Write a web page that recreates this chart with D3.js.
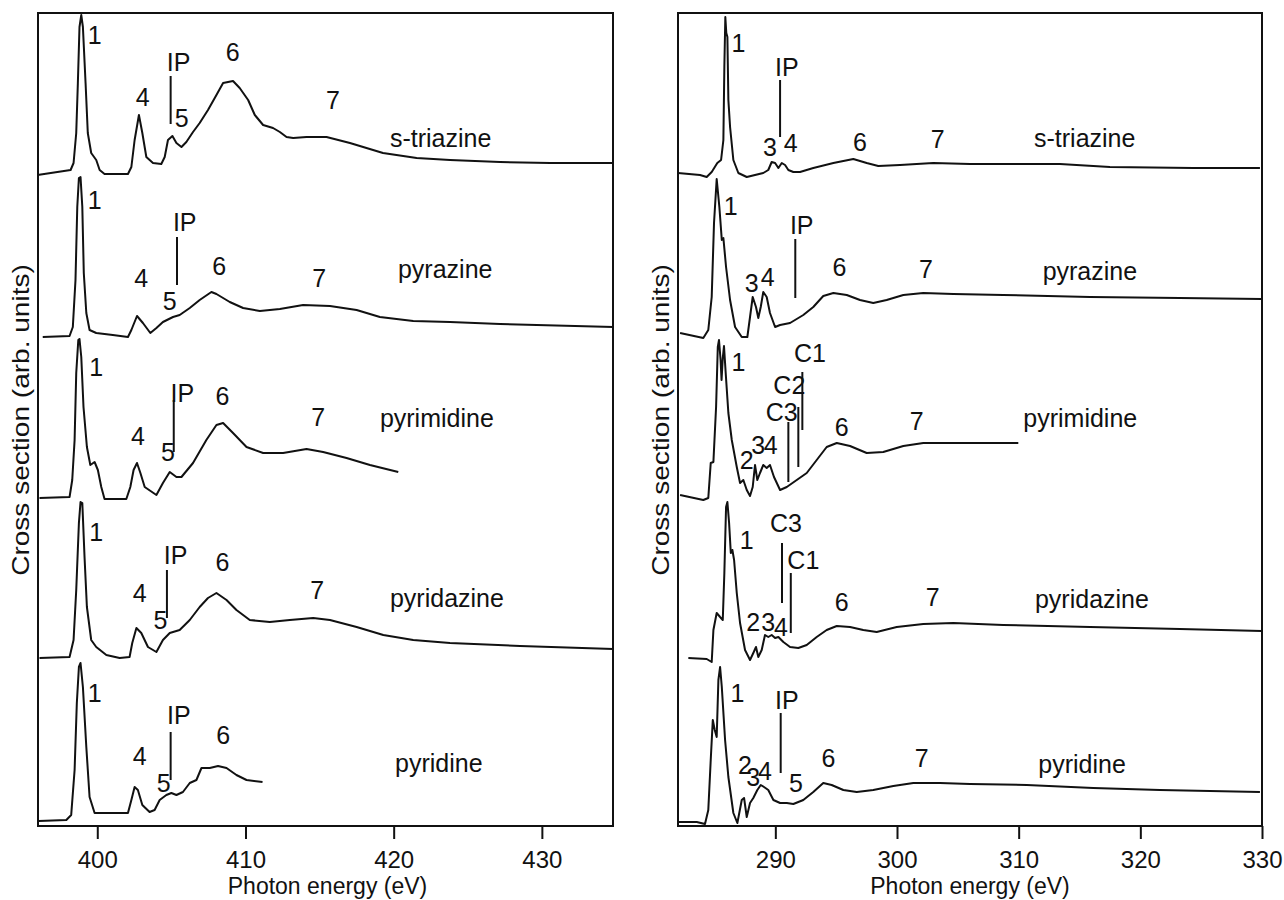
<!DOCTYPE html>
<html lang="en">
<head>
    <meta charset="UTF-8">
    <title>N 1s and C 1s spectra of azines</title>
    <script src="https://d3js.org/d3.v7.min.js"></script>
    <style>
        body { margin: 0; background: #fff; }
        svg text { font-family: "Liberation Sans", Arial, Helvetica, sans-serif; fill: #111; }
        .spec { fill: none; stroke: #111; stroke-width: 2; stroke-linejoin: round; }
        .frame { fill: none; stroke: #111; stroke-width: 2; }
        .mark { stroke: #111; stroke-width: 2; }
        .axis path { display: none; }
        .axis line { stroke: #111; stroke-width: 2; }
    </style>
</head>
<body>
<svg id="chart" width="1284" height="900"></svg>
<script>
    // molecules, top to bottom
    var molecules = ["s-triazine", "pyrazine", "pyrimidine", "pyridazine", "pyridine"];

    // tick labels (photon energy, eV)
    var nTicks = [400, 410, 420, 430];
    var cTicks = [290, 300, 310, 320, 330];

    // vertical offset of each spectrum (arb. units)
    var nOffsets = [651, 489, 328, 168, 5];
    var cOffsets = [651, 489, 328, 168, 6];

    // N 1s spectra: [energy, intensity above own baseline]
    var nTriazine = [[395.97,0],[398.2,5],[398.4,12],[398.58,42],[398.69,92],[398.8,148],[398.92,160],[399.03,148],[399.21,92],[399.36,42],[399.59,22],[399.93,15],[400.16,5],[400.49,1],[402.07,1],[402.3,8],[402.52,35],[402.81,60],[403.04,42],[403.31,18],[403.76,12],[404.32,11],[404.55,18],[404.77,35],[405.07,39],[405.34,32],[405.68,28],[406.01,33],[406.46,43],[406.91,52],[407.47,65],[408.04,80],[408.49,92],[409.16,94],[409.61,87],[410.18,75],[410.63,60],[411.19,50],[411.86,47],[412.32,43],[412.77,38],[413.22,37],[414.12,38],[415.47,38],[417.05,32],[419.28,22],[421.55,17],[423.8,15],[427.18,13],[430.56,12],[434.8,12]];
    var nPyrazine = [[396.32,0],[398.13,1],[398.35,10],[398.53,57],[398.65,130],[398.76,159],[398.87,160],[398.99,130],[399.09,64],[399.26,24],[399.48,7],[399.93,4],[401.05,2],[402.07,0],[402.3,7],[402.68,21],[403.08,14],[403.58,4],[403.99,9],[404.43,15],[405.11,20],[405.56,22],[406.24,29],[406.91,37],[407.7,45],[408.04,43],[408.94,35],[409.84,29],[410.97,26],[412.32,28],[413.89,32],[415.7,31],[417.5,27],[419.07,20],[421.32,16],[423.8,15],[427.18,13],[434.82,10]];
    var nPyrimidine = [[396.1,0],[398.13,1],[398.31,18],[398.47,58],[398.58,125],[398.72,158],[398.8,159],[398.92,141],[399.07,91],[399.3,51],[399.53,33],[399.82,36],[400.04,28],[400.27,11],[400.49,-1],[401.96,-1],[402.23,11],[402.45,28],[402.68,35],[402.91,25],[403.2,11],[403.99,3],[404.43,15],[404.89,26],[405.34,21],[405.68,21],[406.46,35],[407.36,58],[408.04,73],[408.49,75],[409.16,65],[410.07,51],[411.19,45],[412.54,45],[414.12,49],[415.24,46],[416.82,40],[418.4,33],[420.31,26]];
    var nPyridazine = [[396.1,0],[398.13,1],[398.4,18],[398.58,68],[398.76,135],[398.87,156],[398.99,155],[399.14,101],[399.3,51],[399.59,18],[399.93,11],[400.61,3],[401.51,0],[402.18,1],[402.36,15],[402.64,30],[402.97,25],[403.42,11],[403.99,6],[404.43,18],[404.89,25],[405.56,28],[406.24,38],[406.91,51],[407.47,60],[408.04,65],[408.72,58],[409.39,48],[410.29,38],[411.64,36],[412.99,38],[414.57,40],[415.7,38],[417.5,31],[419.3,23],[421.32,18],[423.8,15],[428.53,12],[434.82,9]];
    var nPyridine = [[396.05,0],[397.91,1],[398.24,6],[398.47,51],[398.62,118],[398.76,154],[398.87,158],[399.03,134],[399.26,74],[399.48,24],[399.82,8],[400.61,8],[402.07,8],[402.3,21],[402.52,34],[402.74,31],[403.04,16],[403.53,9],[403.87,11],[404.21,21],[404.66,26],[405.0,28],[405.34,26],[405.78,29],[406.24,38],[406.69,41],[407.03,53],[407.59,53],[408.15,55],[408.72,53],[409.39,46],[410.07,41],[411.15,39]];

    // C 1s spectra
    var cTriazine = [[282,2],[283.81,0],[284.36,-2],[284.77,3],[285.23,12],[285.54,15],[285.73,35],[285.81,108],[285.89,158],[285.97,142],[286.06,138],[286.14,75],[286.28,48],[286.55,15],[286.96,2],[287.65,-2],[289.01,2],[289.42,5],[289.7,13],[289.98,12],[290.25,7],[290.53,12],[290.8,10],[291.07,5],[291.48,3],[292.03,3],[293.12,7],[294.77,12],[296.41,16],[297.51,12],[298.46,9],[300.25,10],[302.98,12],[306.0,11],[313.39,11],[317.5,8],[324.35,7],[329.83,7]];
    var cPyrazine = [[282.17,4],[284.08,-1],[284.49,7],[284.77,40],[284.96,114],[285.18,158],[285.4,130],[285.6,97],[285.73,99],[285.95,70],[286.28,37],[286.69,10],[287.24,0],[287.7,0],[287.92,20],[288.14,40],[288.41,30],[288.6,19],[288.8,30],[289.01,45],[289.29,40],[289.56,24],[289.98,10],[290.39,12],[291.21,14],[292.3,22],[293.12,30],[293.94,41],[294.77,44],[295.87,42],[296.96,37],[298.05,34],[299.15,37],[300.52,42],[302.16,44],[304.63,43],[308.73,42],[315.86,40],[323.25,39],[329.99,38]];
    var cPyrimidine = [[282.17,3],[284.08,-2],[284.49,0],[284.69,35],[284.91,36],[285.13,91],[285.27,151],[285.37,158],[285.5,138],[285.58,118],[285.68,140],[285.78,152],[285.92,125],[286.14,85],[286.42,58],[286.83,31],[287.1,15],[287.37,18],[287.65,8],[287.92,2],[288.14,11],[288.33,33],[288.52,18],[288.74,25],[289.01,33],[289.29,30],[289.56,33],[289.89,21],[290.39,8],[290.94,11],[291.76,18],[292.58,25],[293.4,38],[294.22,51],[295.05,55],[296.14,52],[297.51,45],[298.87,46],[300.52,52],[302.16,55],[306.0,55],[309.97,55]];
    var cPyridazine = [[282.85,0],[284.36,-1],[284.77,-4],[284.91,28],[285.18,45],[285.46,41],[285.68,38],[285.81,85],[285.95,151],[286.06,156],[286.2,135],[286.34,105],[286.47,108],[286.61,98],[286.83,65],[287.1,35],[287.51,8],[287.92,-2],[288.19,5],[288.41,11],[288.6,1],[288.88,8],[289.15,23],[289.42,21],[289.7,23],[289.98,20],[290.25,21],[290.66,16],[291.21,11],[291.89,10],[292.58,13],[293.4,21],[294.22,28],[295.05,32],[296.14,31],[297.23,28],[298.33,26],[299.98,31],[302.16,34],[304.63,35],[308.73,33],[315.86,31],[323.25,29],[329.99,27]];
    var cPyridine = [[282.03,-2],[283.54,-2],[284.22,-4],[284.49,10],[284.69,60],[284.86,100],[285.02,90],[285.18,83],[285.32,140],[285.46,153],[285.6,133],[285.87,80],[286.14,43],[286.55,7],[286.88,-3],[287.24,20],[287.43,22],[287.65,3],[287.92,17],[288.19,22],[288.52,30],[288.8,35],[289.07,33],[289.42,30],[289.84,20],[290.39,17],[290.94,17],[291.48,16],[292.3,20],[293.12,28],[293.94,37],[294.63,35],[295.59,30],[296.69,28],[298.05,30],[299.7,34],[301.34,37],[303.53,37],[306.0,36],[310.66,35],[316.13,32],[321.61,30],[329.83,28]];

    // peak labels: [text, energy, height above baseline]
    var nLabels = [
        [["1",399.82,140],["4",403.06,78],["IP",405.49,113],["5",405.7,57],["6",409.14,123],["7",415.9,75]],
        [["1",399.82,137],["IP",405.9,115],["4",402.97,59],["5",404.89,36],["6",408.22,71],["7",414.97,59]],
        [["1",399.93,131],["IP",405.74,105],["4",402.74,62],["5",404.77,46],["6",408.45,102],["7",414.91,81]],
        [["1",399.93,126],["IP",405.29,103],["4",402.86,65],["5",404.26,38],["6",408.45,96],["7",414.84,68]],
        [["1",399.82,128],["IP",405.51,106],["4",402.86,65],["5",404.48,38],["6",408.49,86]]
    ];
    var cLabels = [
        [["1",286.96,132],["IP",290.94,108],["3",289.56,28],["4",291.27,32],["6",296.96,33],["7",303.34,36]],
        [["1",286.34,131],["IP",292.17,112],["3",288.06,54],["4",289.38,60],["6",295.26,70],["7",302.38,68]],
        [["1",286.96,136],["2",287.65,38],["3",288.6,53],["4",289.62,53],["C3",290.53,86],["C2",291.15,113],["C1",292.85,145],["6",295.46,71],["7",301.62,77]],
        [["1",287.65,118],["C3",290.88,135],["C1",292.3,98],["2",288.19,36],["3",289.42,36],["4",290.47,31],["6",295.46,56],["7",302.93,61]],
        [["1",286.88,127],["IP",290.94,120],["2",287.51,55],["3",288.19,43],["4",289.15,49],["5",291.7,37],["6",294.36,62],["7",302.03,62]]
    ];

    // vertical marker lines (ionisation potentials): [energy, top, bottom] above baseline
    var nMarkers = [[[404.95,99,51]], [[405.38,100,52]], [[405.16,98,46]], [[404.7,88,40]], [[404.95,89,41]]];
    var cMarkers = [
        [[290.39,95,38]],
        [[291.64,98,39]],
        [[291.07,76,16],[291.89,91,31],[292.22,126,68]],
        [[290.55,115,55],[291.27,85,25]],
        [[290.44,107,47]]
    ];

    // molecule name position: [energy, height above baseline]
    var nNames = [[419.75,28],[420.29,59],[419.07,71],[419.75,51],[420.09,49]];
    var cNames = [[311.26,28],[311.97,57],[310.38,71],[311.34,50],[311.61,47]];

    var svg = d3.select("#chart");
    var plotTop = 13, plotBottom = 826;

    function drawPanel(opt) {
        var x = d3.scaleLinear().domain(opt.domain).range(opt.range);
        var y = d3.scaleLinear().domain([0, 813]).range([plotBottom, plotTop]);
        var g = svg.append("g");

        g.append("rect").attr("class", "frame")
            .attr("x", opt.range[0]).attr("y", plotTop)
            .attr("width", opt.range[1] - opt.range[0]).attr("height", plotBottom - plotTop);

        var axis = g.append("g").attr("class", "axis")
            .attr("transform", "translate(0," + plotBottom + ")")
            .call(d3.axisBottom(x).tickValues(opt.ticks).tickSize(13).tickPadding(12).tickFormat(d3.format("d")));
        axis.selectAll("text").style("font-size", "24px").attr("fill", "#111");

        opt.spectra.forEach(function(s, i) {
            var off = opt.offsets[i];
            var line = d3.line().x(d => x(d[0])).y(d => y(d[1] + off));
            g.append("path").attr("class", "spec").attr("d", line(s));

            opt.labels[i].forEach(function(l) {
                g.append("text")
                    .attr("x", x(l[1])).attr("y", y(l[2] + off))
                    .attr("dy", "0.35em")
                    .attr("text-anchor", "middle")
                    .style("font-size", "25px")
                    .text(l[0]);
            });

            opt.markers[i].forEach(function(m) {
                g.append("line").attr("class", "mark")
                    .attr("x1", x(m[0])).attr("x2", x(m[0]))
                    .attr("y1", y(m[1] + off)).attr("y2", y(m[2] + off));
            });

            g.append("text")
                .attr("x", x(opt.names[i][0])).attr("y", y(opt.names[i][1] + off))
                .style("font-size", "25px")
                .text(molecules[i]);
        });

        g.append("text")
            .attr("x", (opt.range[0] + opt.range[1]) / 2 + opt.titleShift)
            .attr("y", 894)
            .attr("text-anchor", "middle")
            .style("font-size", "23px")
            .text("Photon energy (eV)");

        // the y title is drawn a little elongated, as in the original figure
        g.append("text")
            .attr("transform", "translate(" + (opt.range[0] - 9) + ",420) rotate(-90) scale(1.22,1)")
            .attr("text-anchor", "middle")
            .style("font-size", "23px")
            .text("Cross section (arb. units)");
    }

    drawPanel({
        domain: [396, 434.8], range: [38, 613], ticks: nTicks, titleShift: 2,
        spectra: [nTriazine, nPyrazine, nPyrimidine, nPyridazine, nPyridine],
        offsets: nOffsets, labels: nLabels, markers: nMarkers, names: nNames
    });
    drawPanel({
        domain: [282, 330], range: [678, 1262], ticks: cTicks, titleShift: 0,
        spectra: [cTriazine, cPyrazine, cPyrimidine, cPyridazine, cPyridine],
        offsets: cOffsets, labels: cLabels, markers: cMarkers, names: cNames
    });
</script>
</body>
</html>
